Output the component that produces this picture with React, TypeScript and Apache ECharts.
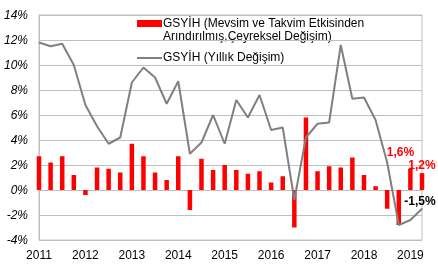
import React, { useEffect, useRef } from "react";
import * as echarts from "echarts";

const years = ["2011", "2012", "2013", "2014", "2015", "2016", "2017", "2018", "2019"];
const quarterCount = 34;
const categories: string[] = Array.from({ length: quarterCount }, (_, i) => `${years[Math.floor(i / 4)]}-Q${(i % 4) + 1}`);

// Seasonally and calendar adjusted quarterly change (%)
const quarterlyChange = [
  2.7, 2.2, 2.7, 1.2,
  -0.4, 1.8, 1.7, 1.4,
  3.7, 2.7, 1.4, 0.8,
  2.7, -1.6, 2.5, 1.6,
  2.0, 1.6, 1.3, 1.5,
  0.6, 1.1, -3.0, 5.8,
  1.5, 1.9, 1.8, 2.6,
  1.2, 0.3, -1.5, -2.8,
  1.7, 1.35,
];

// Annual change (%)
const annualChange = [
  11.8, 11.5, 11.7, 10.0,
  6.8, 5.1, 3.7, 4.2,
  8.6, 9.8, 9.0, 6.9,
  8.7, 2.9, 3.8, 6.0,
  3.7, 7.2, 5.8, 7.6,
  4.8, 5.0, -0.8, 4.2,
  5.3, 5.4, 11.6, 7.3,
  7.4, 5.6, 2.2, -2.8,
  -2.4, -1.5,
];

const barLabelTexts: Record<number, string> = { 32: "1,6%", 33: "1,2%" };
const lineLabelTexts: Record<number, string> = { 33: "-1,5%" };

const yTicks = { min: -4, max: 14, interval: 2 };

const seriesNames = [
  "GSYİH (Mevsim ve Takvim Etkisinden\nArındırılmış,Çeyreksel Değişim)",
  "GSYİH (Yıllık Değişim)",
];

const FONT = "'Liberation Sans', Arial, sans-serif";

export default function App() {
  const ref = useRef<HTMLDivElement>(null);

  useEffect(() => {
    if (!ref.current) return;
    const chart = echarts.init(ref.current, undefined, { renderer: "svg" });

    const barData = quarterlyChange.map((v, i) => {
      const t = barLabelTexts[i];
      if (!t) return v;
      return {
        value: v,
        label: {
          show: true,
          position: "top",
          formatter: t,
          color: "#ff0000",
          fontWeight: "bold",
          fontSize: 12,
          fontFamily: FONT,
          offset: i === 32 ? [-10, -6] : [0, 3],
        },
      };
    });

    const lineData = annualChange.map((v, i) => {
      const t = lineLabelTexts[i];
      if (!t) return { value: v, symbol: "none" };
      return {
        value: v,
        symbol: "circle",
        symbolSize: 1,
        label: {
          show: true,
          position: "top",
          formatter: t,
          color: "#000000",
          fontWeight: "bold",
          fontSize: 12,
          fontFamily: FONT,
          offset: [-2, 4],
        },
      };
    });

    chart.setOption({
      animation: false,
      textStyle: { fontFamily: FONT },
      grid: {
        left: 39,
        right: 16,
        top: 15,
        bottom: 32,
        show: true,
        borderColor: "#bfbfbf",
        borderWidth: 1,
      },
      xAxis: {
        type: "category",
        data: categories,
        boundaryGap: false,
        axisLine: { show: true, lineStyle: { color: "#bfbfbf" } },
        axisTick: { show: false },
        splitLine: { show: false },
        axisLabel: {
          interval: (idx: number) => idx % 4 === 0,
          formatter: (v: string) => v.slice(0, 4),
          color: "#000",
          fontSize: 12,
          fontFamily: FONT,
          margin: 9,
        },
      },
      yAxis: {
        type: "value",
        min: yTicks.min,
        max: yTicks.max,
        interval: yTicks.interval,
        axisLine: { show: true, lineStyle: { color: "#bfbfbf" } },
        axisTick: { show: false },
        splitLine: { show: true, lineStyle: { color: "#bfbfbf", width: 1 } },
        axisLabel: {
          formatter: (v: number) => `${v}%`,
          color: "#000",
          fontSize: 12,
          fontStyle: "italic",
          fontFamily: FONT,
          margin: 11,
        },
      },
      graphic: [
        { type: "rect", left: 137, top: 20, shape: { width: 25, height: 7 }, style: { fill: "#ff0000" } },
        {
          type: "text",
          left: 163,
          top: 16,
          style: {
            text: seriesNames[0],
            fill: "#000",
            font: `12px ${FONT}`,
            lineHeight: 13,
          },
        },
        { type: "line", shape: { x1: 137, y1: 58, x2: 162, y2: 58 }, style: { stroke: "#808080", lineWidth: 2 } },
        {
          type: "text",
          left: 163,
          top: 51,
          style: { text: seriesNames[1], fill: "#000", font: `12px ${FONT}` },
        },
      ],
      series: [
        {
          name: seriesNames[0],
          type: "bar",
          data: barData,
          barWidth: 4.5,
          itemStyle: { color: "#ff0000" },
        },
        {
          name: seriesNames[1],
          type: "line",
          data: lineData,
          showSymbol: true,
          symbol: "circle",
          symbolSize: 1,
          itemStyle: { color: "#808080" },
          lineStyle: { color: "#808080", width: 2 },
          z: 5,
        },
      ],
    });

    return () => chart.dispose();
  }, []);

  return <div ref={ref} style={{ position: "fixed", left: 0, top: 0, width: 438, height: 272 }} />;
}
